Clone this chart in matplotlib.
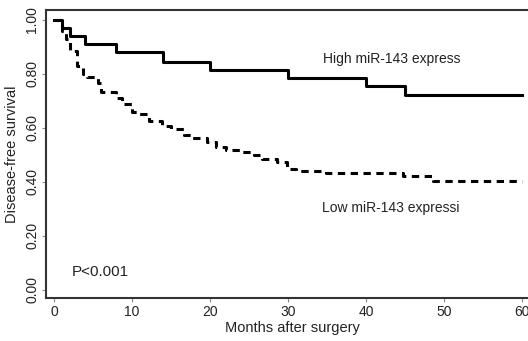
import matplotlib
matplotlib.use('Agg')
import matplotlib.pyplot as plt

plt.rcParams['font.family'] = ['Liberation Sans', 'DejaVu Sans']

# Kaplan-Meier step points (month, survival)
high_t = [0, 1, 2, 4, 8, 14, 20, 30, 40, 45, 60]
high_s = [1.00, 0.97, 0.94, 0.91, 0.88, 0.845, 0.815, 0.785, 0.755, 0.72, 0.72]

low_t = [0, 1, 1.5, 2, 3, 3.7, 4.2, 5.6, 6, 8, 8.7, 10, 10.8, 12.2, 13.8, 15,
         16.6, 17.6, 19.6, 20.7, 22, 23.8, 25.6, 26.6, 28.5, 29.8, 31, 34.8,
         44.7, 48.5, 60]
low_s = [1.00, 0.96, 0.93, 0.885, 0.83, 0.80, 0.79, 0.767, 0.733, 0.71, 0.69,
         0.66, 0.65, 0.626, 0.607, 0.596, 0.574, 0.563, 0.548, 0.53, 0.52,
         0.51, 0.50, 0.485, 0.475, 0.448, 0.44, 0.433, 0.422, 0.404, 0.404]

xticks = [0, 10, 20, 30, 40, 50, 60]
yticks = [0.0, 0.2, 0.4, 0.6, 0.8, 1.0]

fig = plt.figure(figsize=(5.28, 3.41), dpi=100)
ax = fig.add_axes([0.0871, 0.126, 0.932, 0.845])

ax.step(high_t, high_s, where='post', color='black', lw=2.2)
ax.step(low_t, low_s, where='post', color='black', lw=2.2,
        linestyle=(0, (2.4, 1.8)))

ax.set_xlim(-1.03, 62)
ax.set_ylim(-0.03, 1.037)
ax.set_xticks(xticks)
ax.set_xticklabels([str(t) for t in xticks])
ax.set_yticks(yticks)
ax.set_yticklabels(['%.2f' % v for v in yticks], rotation=90, va='center')
ax.tick_params(axis='both', length=3, width=0.8, color='#888888',
               labelsize=10, labelcolor='#222222', pad=2)

for side in ['left', 'bottom', 'top']:
    ax.spines[side].set_color('#333333')
    ax.spines[side].set_linewidth(1.5)
ax.spines['right'].set_visible(False)

ax.set_xlabel('Months after surgery', fontsize=10.5, color='#222222', labelpad=1.5)
ax.set_ylabel('Disease-free survival', fontsize=10.5, color='#222222', labelpad=4)

ax.text(34.5, 0.855, 'High miR-143 express', fontsize=10, color='#222222',
        va='center')
ax.text(34.3, 0.305, 'Low miR-143 expressi', fontsize=10, color='#222222',
        va='center')
ax.text(2.3, 0.065, 'P<0.001', fontsize=11, color='#222222', va='center')

fig.savefig('out.png', dpi=100)
